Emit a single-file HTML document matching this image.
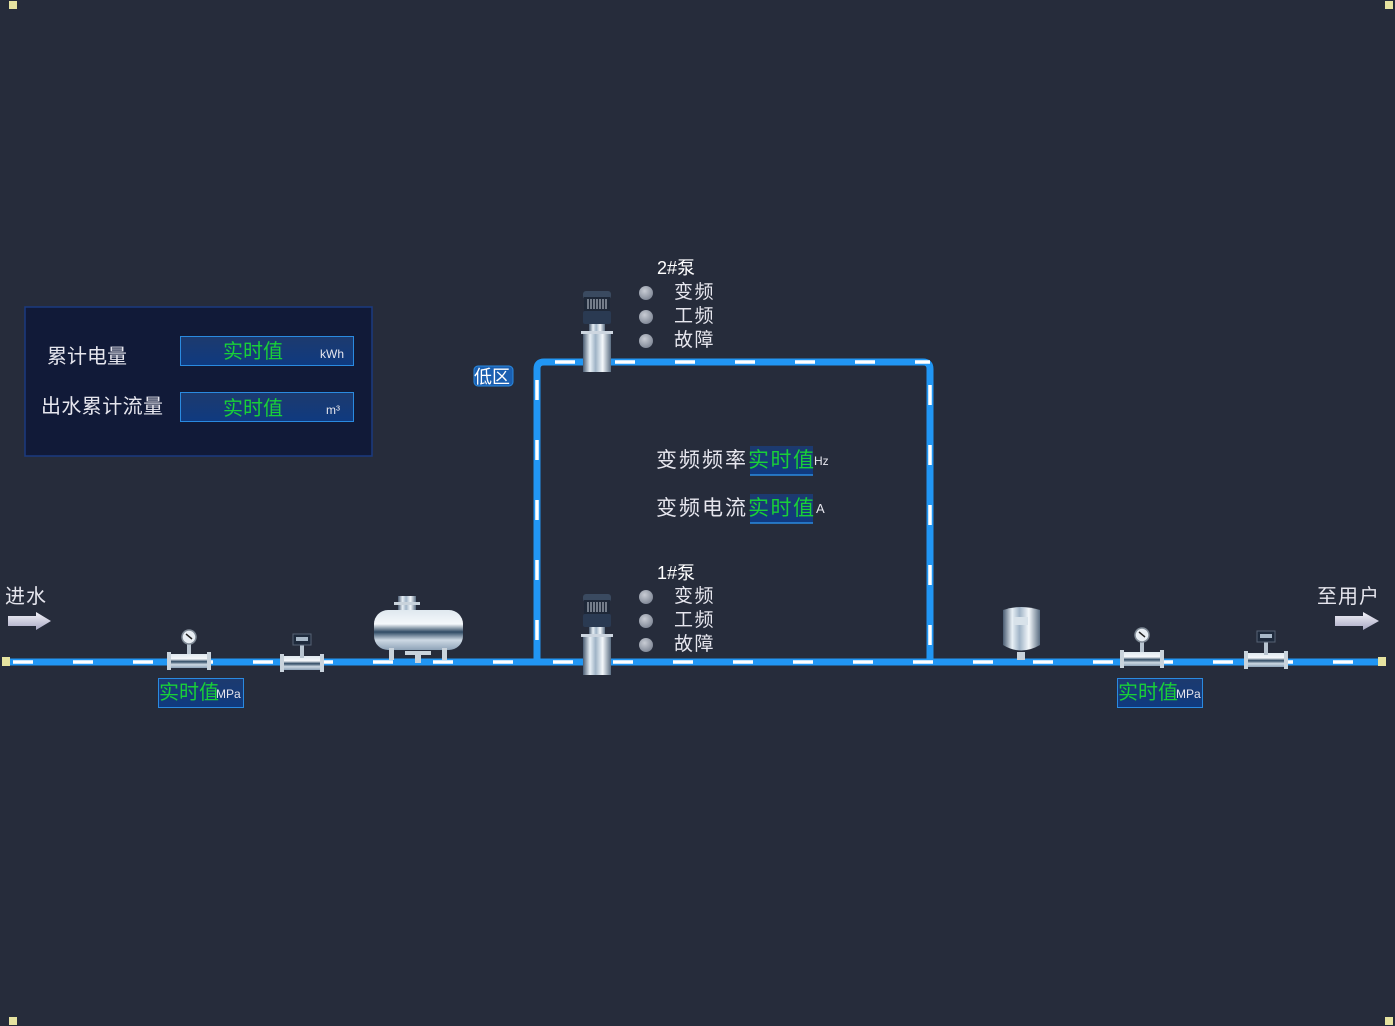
<!DOCTYPE html>
<html><head><meta charset="utf-8"><style>
html,body{margin:0;padding:0;background:#262c3b;}
svg{display:block}
text{font-family:"Liberation Sans","Noto Sans CJK SC",sans-serif;}
</style></head><body>
<svg width="1395" height="1026" viewBox="0 0 1395 1026" xmlns="http://www.w3.org/2000/svg">
<defs>
<linearGradient id="metal" x1="0" x2="1" y1="0" y2="0">
<stop offset="0" stop-color="#4a5c72"/><stop offset="0.25" stop-color="#e8f0f6"/><stop offset="0.45" stop-color="#9fb3c6"/><stop offset="0.7" stop-color="#f4f8fb"/><stop offset="1" stop-color="#5a6d82"/></linearGradient>
<linearGradient id="metalv" x1="0" x2="0" y1="0" y2="1">
<stop offset="0" stop-color="#dfe8ef"/><stop offset="0.35" stop-color="#f5f8fb"/><stop offset="0.55" stop-color="#2f4a64"/><stop offset="0.75" stop-color="#cdd9e4"/><stop offset="1" stop-color="#8ea3b8"/></linearGradient>
<linearGradient id="box" x1="0" x2="0" y1="0" y2="1"><stop offset="0" stop-color="#1d3a6e"/><stop offset="1" stop-color="#0f3a80"/></linearGradient>
<linearGradient id="arrow" x1="0" x2="0" y1="0" y2="1"><stop offset="0" stop-color="#f2f2f8"/><stop offset="1" stop-color="#a9a9c4"/></linearGradient>
<radialGradient id="led" cx="0.4" cy="0.35" r="0.7"><stop offset="0" stop-color="#c8ccd4"/><stop offset="1" stop-color="#7d8594"/></radialGradient>
<g id="pump">
<rect x="-14" y="0" width="28" height="8" rx="3" fill="#3a4a60"/>
<rect x="-13" y="6" width="26" height="14" fill="#1e2838"/>
<g stroke="#c9d2dc" stroke-width="1"><line x1="-9" y1="8" x2="-9" y2="18"/><line x1="-6" y1="8" x2="-6" y2="18"/><line x1="-3" y1="8" x2="-3" y2="18"/><line x1="0" y1="8" x2="0" y2="18"/><line x1="3" y1="8" x2="3" y2="18"/><line x1="6" y1="8" x2="6" y2="18"/><line x1="9" y1="8" x2="9" y2="18"/></g>
<rect x="-14" y="20" width="28" height="13" rx="2" fill="#2a3a52"/>
<rect x="-8" y="33" width="16" height="8" fill="url(#metal)"/>
<rect x="-16" y="40" width="32" height="3" fill="#cdd6e0"/>
<rect x="-14" y="43" width="28" height="38" fill="url(#metal)"/>
</g>
<g id="gauge">
<rect x="-20" y="22" width="40" height="14" fill="url(#metalv)"/>
<rect x="-22" y="20" width="4" height="18" fill="#c9d3dc"/><rect x="18" y="20" width="4" height="18" fill="#c9d3dc"/>
<rect x="-2" y="10" width="4" height="12" fill="#b8c4d0"/>
<circle cx="0" cy="5" r="7" fill="#e8eef4" stroke="#7f8a96" stroke-width="1.5"/>
<line x1="-3" y1="2" x2="3" y2="7" stroke="#222" stroke-width="1.5"/>
</g>
<g id="flow">
<rect x="-20" y="22" width="40" height="14" fill="url(#metalv)"/>
<rect x="-22" y="20" width="4" height="18" fill="#c9d3dc"/><rect x="18" y="20" width="4" height="18" fill="#c9d3dc"/>
<rect x="-2" y="10" width="4" height="14" fill="#b8c4d0"/>
<rect x="-9" y="0" width="18" height="11" fill="#1e2a3c" stroke="#566274"/>
<rect x="-6" y="3" width="12" height="4" fill="#a8b8c8"/>
</g>
</defs>

<rect x="9" y="1" width="8" height="8" fill="#e6e3a0"/>
<rect x="1385" y="1" width="8" height="8" fill="#e6e3a0"/>
<rect x="9" y="1017" width="8" height="8" fill="#e6e3a0"/>
<rect x="1385" y="1017" width="8" height="8" fill="#e6e3a0"/>

<!-- panel -->
<rect x="25" y="307" width="347" height="149" fill="#111a38" stroke="#1a3a80" stroke-width="1.5"/>
<text x="47" y="363" font-size="20" fill="#e6e6ee">累计电量</text>
<text x="41" y="413" font-size="20" fill="#e6e6ee" letter-spacing="0.4">出水累计流量</text>
<rect x="180.5" y="336.5" width="173" height="29" fill="url(#box)" stroke="#2a8ae0"/>
<text x="223" y="358" font-size="20" fill="#18d038">实时值</text>
<text x="320" y="358" font-size="12" fill="#e6e6ee">kWh</text>
<rect x="180.5" y="392.5" width="173" height="29" fill="url(#box)" stroke="#2a8ae0"/>
<text x="223" y="415" font-size="20" fill="#18d038">实时值</text>
<text x="326" y="414" font-size="12" fill="#e6e6ee">m³</text>

<!-- pipes -->
<g fill="none" stroke="#2196f3" stroke-width="7">
<line x1="5" y1="662" x2="1383" y2="662"/>
<path d="M537 662 V369 Q537 362 544 362 H923 Q930 362 930 369 V662"/>
</g>
<g fill="none" stroke="#ffffff" stroke-width="3.5">
<line x1="13" y1="662" x2="1383" y2="662" stroke-dasharray="20 40"/>
<path d="M555 362 H930" stroke-dasharray="20 40"/>
<path d="M537 380 V662" stroke-dasharray="20 40"/>
<path d="M930 385 V662" stroke-dasharray="20 40"/>
</g>
<rect x="2" y="657" width="8" height="9" fill="#e6e3a0"/>
<rect x="1378" y="657" width="8" height="9" fill="#e6e3a0"/>

<!-- arrows -->
<text x="5" y="603" font-size="20" fill="#e6e6ee" letter-spacing="1">进水</text>
<path d="M8 616 H36 V612 L51 621 L36 630 V626 H8 Z" fill="url(#arrow)"/>
<text x="1317" y="603" font-size="20" fill="#e6e6ee" letter-spacing="1">至用户</text>
<path d="M1335 616 H1363 V612 L1379 621 L1363 630 V626 H1335 Z" fill="url(#arrow)"/>

<use href="#gauge" x="189" y="632"/>
<use href="#flow" x="302" y="634"/>
<use href="#gauge" x="1142" y="630"/>
<use href="#flow" x="1266" y="631"/>

<!-- tank -->
<g>
<rect x="398" y="596" width="18" height="16" fill="url(#metal)"/>
<rect x="394" y="602" width="26" height="3" fill="#c9d3dc"/>
<rect x="374" y="610" width="89" height="40" rx="14" fill="url(#metalv)"/>
<rect x="389" y="648" width="5" height="12" fill="#c9d3dc"/><rect x="442" y="648" width="5" height="12" fill="#c9d3dc"/>
<rect x="405" y="651" width="26" height="4" fill="#c9d3dc"/><rect x="415" y="653" width="6" height="10" fill="#c9d3dc"/>
</g>
<!-- small tank -->
<g>
<path d="M1003 610 Q1021 604 1040 610 V645 Q1021 656 1003 645 Z" fill="url(#metal)"/>
<rect x="1014" y="617" width="14" height="8" fill="#d8e2ea"/>
<rect x="1017" y="652" width="8" height="8" fill="#c9d3dc"/>
</g>

<use href="#pump" x="597" y="291"/>
<use href="#pump" x="597" y="594"/>

<!-- pump labels -->
<text x="657" y="274" font-size="18" fill="#ffffff">2#泵</text>
<circle cx="646" cy="293" r="7" fill="url(#led)"/>
<circle cx="646" cy="317" r="7" fill="url(#led)"/>
<circle cx="646" cy="341" r="7" fill="url(#led)"/>
<text x="674" y="298" font-size="19" fill="#e6e6ee" letter-spacing="1.5">变频</text>
<text x="674" y="322" font-size="19" fill="#e6e6ee" letter-spacing="1.5">工频</text>
<text x="674" y="346" font-size="19" fill="#e6e6ee" letter-spacing="1.5">故障</text>
<text x="657" y="579" font-size="18" fill="#ffffff">1#泵</text>
<circle cx="646" cy="597" r="7" fill="url(#led)"/>
<circle cx="646" cy="621" r="7" fill="url(#led)"/>
<circle cx="646" cy="645" r="7" fill="url(#led)"/>
<text x="674" y="602" font-size="19" fill="#e6e6ee" letter-spacing="1.5">变频</text>
<text x="674" y="626" font-size="19" fill="#e6e6ee" letter-spacing="1.5">工频</text>
<text x="674" y="650" font-size="19" fill="#e6e6ee" letter-spacing="1.5">故障</text>

<rect x="474" y="366" width="39" height="20" rx="4" fill="#1a5fb0" stroke="#2a8ae0"/>
<text x="474" y="383" font-size="18" fill="#ffffff">低区</text>

<!-- VFD readings -->
<text x="656" y="467" font-size="21" fill="#e6e6ee" letter-spacing="2">变频频率</text>
<rect x="750" y="446" width="63" height="29" fill="url(#box)"/>
<line x1="750" y1="475" x2="813" y2="475" stroke="#2a8ae0" stroke-width="1.5"/>
<text x="748" y="467" font-size="21" fill="#18d038" letter-spacing="1.5">实时值</text>
<text x="814" y="465" font-size="12" fill="#e6e6ee">Hz</text>
<text x="656" y="515" font-size="21" fill="#e6e6ee" letter-spacing="2">变频电流</text>
<rect x="750" y="494" width="63" height="29" fill="url(#box)"/>
<line x1="750" y1="523" x2="813" y2="523" stroke="#2a8ae0" stroke-width="1.5"/>
<text x="748" y="515" font-size="21" fill="#18d038" letter-spacing="1.5">实时值</text>
<text x="816" y="513" font-size="13" fill="#e6e6ee">A</text>

<!-- pressure boxes -->
<rect x="158.5" y="678.5" width="85" height="29" fill="url(#box)" stroke="#2a8ae0"/>
<text x="159" y="699" font-size="20" fill="#18d038">实时值</text>
<text x="216" y="698" font-size="12" fill="#e6e6ee">MPa</text>
<rect x="1117.5" y="678.5" width="85" height="29" fill="url(#box)" stroke="#2a8ae0"/>
<text x="1118" y="699" font-size="20" fill="#18d038">实时值</text>
<text x="1176" y="698" font-size="12" fill="#e6e6ee">MPa</text>
</svg>
</body></html>
